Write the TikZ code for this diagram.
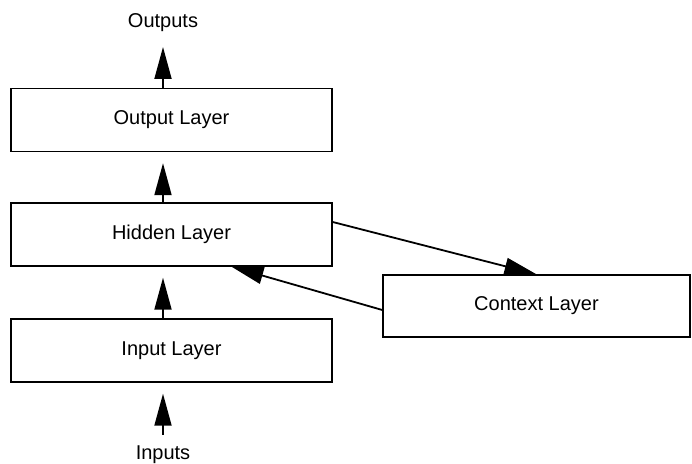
\documentclass[tikz,border=0pt]{standalone}
\usepackage{fontspec}
\setmainfont{Liberation Sans}
\usetikzlibrary{arrows.meta}

\begin{document}
\begin{tikzpicture}[x=0.5pt,y=-0.5pt,
        layer/.style={draw,line width=0.7pt,minimum width=160.5pt,minimum height=31.5pt,inner sep=0pt},
        flow/.style={-{Triangle[length=16pt,width=8.5pt]},line width=0.9pt}]
        \useasboundingbox (0,0) rectangle (692,464);

        % the three stacked layers
        \node[layer] (O) at (171.5,120) {Output Layer};
        \node[layer] (H) at (171.5,234.5) {Hidden Layer};
        \node[layer] (I) at (171.5,350.5) {Input Layer};
        \node[layer,minimum width=153.5pt,minimum height=31pt] (C) at (536.5,306) {Context Layer};

        \node[anchor=base] (outs) at (163,28) {Outputs};
        \node[anchor=base] (ins) at (163,460) {Inputs};
        \coordinate (outtip) at (163,47);
        \coordinate (inbase) at (163,435);

        % feed forward
        \draw[flow,shorten >=5.5pt] (inbase) -- (I.south -| inbase);
        \draw[flow,shorten >=5.5pt] (I.north -| inbase) -- (H.south -| inbase);
        \draw[flow,shorten >=5.5pt] (H.north -| inbase) -- (O.south -| inbase);
        \draw[flow] (O.north -| outtip) -- (outtip);

        % copy to context and back
        \draw[flow] ([yshift=6.25pt]H.east) -- (C.north);
        \draw[flow] ([yshift=-2pt]C.west) -- ([xshift=30pt]H.south);
\end{tikzpicture}
\end{document}
